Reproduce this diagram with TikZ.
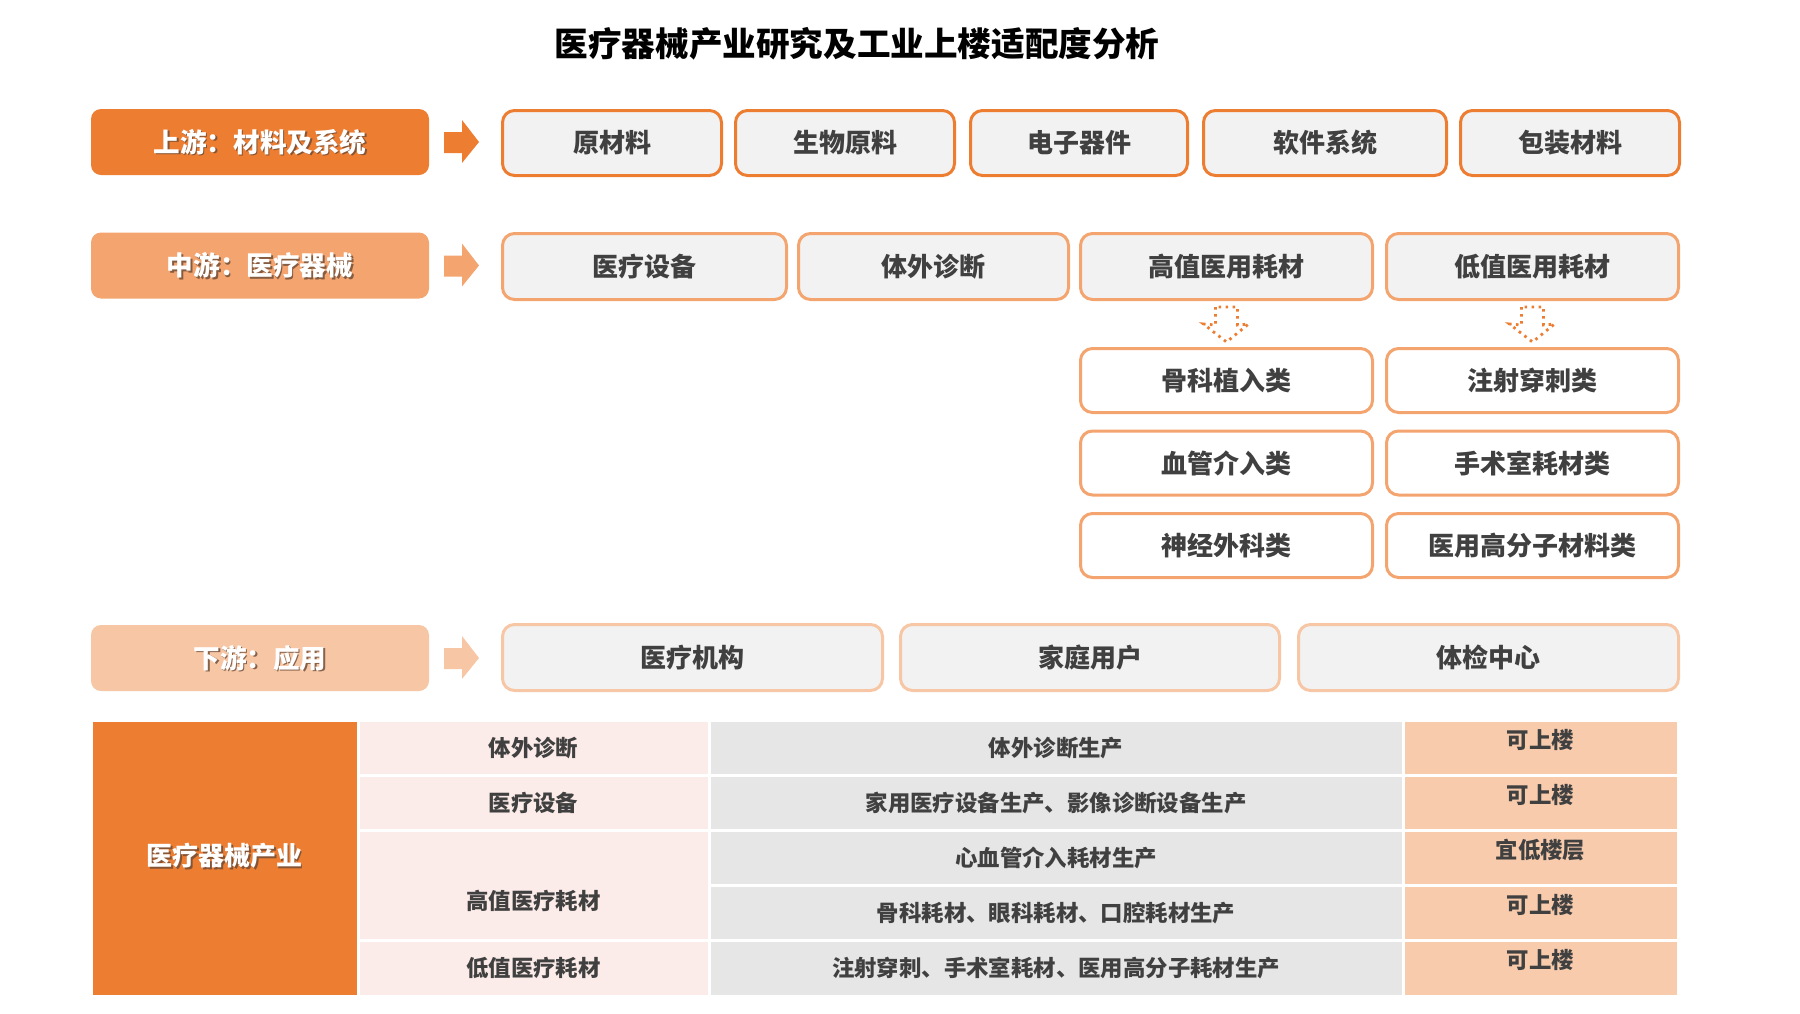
\documentclass[tikz,border=0pt]{standalone}
\usepackage{fontspec}
\setmainfont{Noto Sans CJK SC}
\usetikzlibrary{calc}
\definecolor{dorange}{HTML}{ED7D31}
\definecolor{morange}{HTML}{F3A46F}
\definecolor{lorange}{HTML}{F7C6A4}
\definecolor{boxfill}{HTML}{F2F2F2}
\definecolor{txt}{HTML}{404040}
\definecolor{tpink}{HTML}{FCECE9}
\definecolor{tgray}{HTML}{E7E6E6}
\definecolor{tpeach}{HTML}{F8CBAD}
\definecolor{subline}{HTML}{F4A46E}
\definecolor{shade}{HTML}{6B4A35}
\begin{document}
\begin{tikzpicture}[x=0.5pt,y=-0.5pt,
  lab/.style={rounded corners=5pt, inner sep=0, minimum width=169pt, minimum height=33pt},
  labtxt/.style={text=white, inner sep=0, font=\bfseries\fontsize{13.3}{15}\selectfont},
  labsh/.style={text=shade, opacity=0.8, inner sep=0, font=\bfseries\fontsize{13.3}{15}\selectfont},
  box/.style={draw, line width=1.5pt, rounded corners=6pt, fill=boxfill, text=txt, inner sep=0,
    font=\bfseries\fontsize{13}{15}\selectfont},
  subbox/.style={box, fill=white, draw=subline, minimum width=146pt, minimum height=32pt},
  dotarrow/.style={draw=dorange, line width=1.4pt, dash pattern=on 1.3pt off 2.2pt},
  tcell/.style={draw=white, line width=1.5pt, inner sep=0, text=txt,
    font=\bfseries\fontsize{11.2}{13}\selectfont},
  ttext/.style={inner sep=0, text=txt, font=\bfseries\fontsize{11.2}{13}\selectfont},
  bigsh/.style={text=shade, opacity=0.8, inner sep=0, font=\bfseries\fontsize{13}{15}\selectfont},
  bigtxt/.style={text=white, inner sep=0, font=\bfseries\fontsize{13}{15}\selectfont}
]
\useasboundingbox (0,0) rectangle (1800,1013);

% title
\node[inner sep=0, font=\bfseries\fontsize{16.8}{19}\selectfont, text=black] (title) at (857,44) {医疗器械产业研究及工业上楼适配度分析};

% ---------- upstream ----------
\node[lab, fill=dorange] (L1) at (260,142) {};
\node[labsh] (L1s) at (261.5,143.5) {上游：材料及系统};
\node[labtxt] (L1t) at (260,142) {上游：材料及系统};
\fill[dorange] (444,132) -- (462,132) -- (462,120) -- (479,142) -- (462,163) -- (462,153) -- (444,153) -- cycle;
\node[box, draw=dorange, minimum width=109.5pt, minimum height=32.5pt] (U1) at (612,143) {原材料};
\node[box, draw=dorange, minimum width=109.5pt, minimum height=32.5pt] (U2) at (845,143) {生物原料};
\node[box, draw=dorange, minimum width=108.5pt, minimum height=32.5pt] (U3) at (1079,143) {电子器件};
\node[box, draw=dorange, minimum width=121.5pt, minimum height=32.5pt] (U4) at (1325,143) {软件系统};
\node[box, draw=dorange, minimum width=109.5pt, minimum height=32.5pt] (U5) at (1570,143) {包装材料};

% ---------- midstream ----------
\node[lab, fill=morange] (L2) at (260,265.5) {};
\node[labsh] (L2s) at (261.5,267) {中游：医疗器械};
\node[labtxt] (L2t) at (260,265.5) {中游：医疗器械};
\fill[morange] (444,255.5) -- (462,255.5) -- (462,243.5) -- (479,265.5) -- (462,286.5) -- (462,276.5) -- (444,276.5) -- cycle;
\node[box, draw=morange, minimum width=142pt, minimum height=33pt] (M1) at (644.5,266.5) {医疗设备};
\node[box, draw=morange, minimum width=135pt, minimum height=33pt] (M2) at (933.5,266.5) {体外诊断};
\node[box, draw=morange, minimum width=146pt, minimum height=33pt] (M3) at (1226.5,266.5) {高值医用耗材};
\node[box, draw=morange, minimum width=146pt, minimum height=33pt] (M4) at (1532.5,266.5) {低值医用耗材};

% sub categories
\node[subbox] (S1) at (1226.5,380.5) {骨科植入类};
\node[subbox] (S2) at (1226.5,463) {血管介入类};
\node[subbox] (S3) at (1226.5,545.5) {神经外科类};
\node[subbox] (S4) at (1532.5,380.5) {注射穿刺类};
\node[subbox] (S5) at (1532.5,463) {手术室耗材类};
\node[subbox] (S6) at (1532.5,545.5) {医用高分子材料类};

% dotted block arrows
\foreach \c in {1226.5,1532.5}{
  \draw[dotarrow] (\c-11,307) -- (\c-11,325) -- (\c-23,324) -- (\c,342) -- (\c+22,324) -- (\c+11,325) -- (\c+11,307) -- cycle;
}

% ---------- downstream ----------
\node[lab, fill=lorange] (L3) at (260,658) {};
\node[labsh] (L3s) at (261.5,659.5) {下游：应用};
\node[labtxt] (L3t) at (260,658) {下游：应用};
\fill[lorange] (444,648) -- (462,648) -- (462,636) -- (479,658) -- (462,679) -- (462,669) -- (444,669) -- cycle;
\node[box, draw=lorange, minimum width=190pt, minimum height=33pt] (D1) at (692.5,657.5) {医疗机构};
\node[box, draw=lorange, minimum width=189.5pt, minimum height=33pt] (D2) at (1090,657.5) {家庭用户};
\node[box, draw=lorange, minimum width=190pt, minimum height=33pt] (D3) at (1488.5,657.5) {体检中心};

% ---------- table ----------
\node[tcell, fill=dorange, minimum width=133.5pt, minimum height=138pt] (T0) at (224.5,858) {};
\node[bigsh] (T0s) at (226,857.5) {医疗器械产业};
\node[bigtxt] (T0t) at (224.5,856) {医疗器械产业};

\node[tcell, fill=tpink, minimum width=175.5pt, minimum height=27.6pt] (P1) at (533.5,747.6) {体外诊断};
\node[tcell, fill=tpink, minimum width=175.5pt, minimum height=27.6pt] (P2) at (533.5,802.8) {医疗设备};
\node[tcell, fill=tpink, minimum width=175.5pt, minimum height=55.2pt] (P3) at (533.5,885.6) {};
\node[ttext] (P3t) at (533.5,901) {高值医疗耗材};
\node[tcell, fill=tpink, minimum width=175.5pt, minimum height=27.6pt] (P5) at (533.5,968.4) {低值医疗耗材};

\node[tcell, fill=tgray, minimum width=347pt, minimum height=27.6pt] (G1) at (1056,747.6) {体外诊断生产};
\node[tcell, fill=tgray, minimum width=347pt, minimum height=27.6pt] (G2) at (1056,802.8) {家用医疗设备生产、影像诊断设备生产};
\node[tcell, fill=tgray, minimum width=347pt, minimum height=27.6pt] (G3) at (1056,858) {心血管介入耗材生产};
\node[tcell, fill=tgray, minimum width=347pt, minimum height=27.6pt] (G4) at (1056,913.2) {骨科耗材、眼科耗材、口腔耗材生产};
\node[tcell, fill=tgray, minimum width=347pt, minimum height=27.6pt] (G5) at (1056,968.4) {注射穿刺、手术室耗材、医用高分子耗材生产};

\node[tcell, fill=tpeach, minimum width=137.5pt, minimum height=27.6pt] (R1) at (1540.5,747.6) {};
\node[tcell, fill=tpeach, minimum width=137.5pt, minimum height=27.6pt] (R2) at (1540.5,802.8) {};
\node[tcell, fill=tpeach, minimum width=137.5pt, minimum height=27.6pt] (R3) at (1540.5,858) {};
\node[tcell, fill=tpeach, minimum width=137.5pt, minimum height=27.6pt] (R4) at (1540.5,913.2) {};
\node[tcell, fill=tpeach, minimum width=137.5pt, minimum height=27.6pt] (R5) at (1540.5,968.4) {};
\node[ttext] (R1t) at (1540.5,739.6) {可上楼};
\node[ttext] (R2t) at (1540.5,794.8) {可上楼};
\node[ttext] (R3t) at (1540.5,850) {宜低楼层};
\node[ttext] (R4t) at (1540.5,905.2) {可上楼};
\node[ttext] (R5t) at (1540.5,960.4) {可上楼};
\end{tikzpicture}
\end{document}
